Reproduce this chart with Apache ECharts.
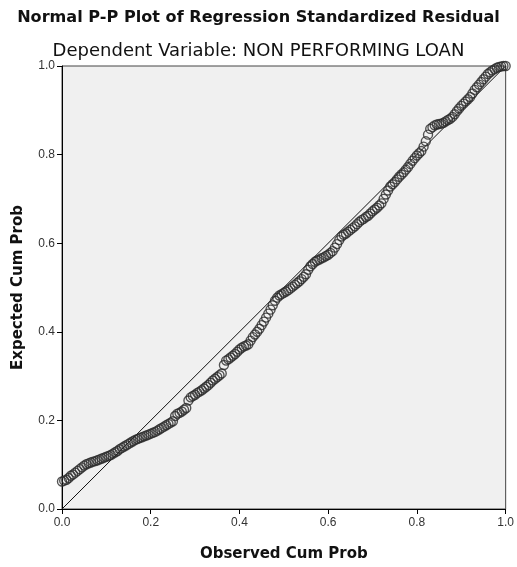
<!DOCTYPE html>
<html>
<head>
<meta charset="utf-8">
<script src="https://cdn.jsdelivr.net/npm/echarts@6/dist/echarts.min.js"></script>
<style>html,body{margin:0;padding:0;background:#fff;}#c{width:517px;height:567px;}</style>
</head>
<body>
<div id="c"></div>
<script>
var observed = [
  0.000,0.005,0.010,0.015,0.020,0.025,0.030,0.035,0.040,0.045,
  0.050,0.055,0.060,0.065,0.070,0.075,0.080,0.085,0.090,0.095,
  0.100,0.105,0.110,0.115,0.120,0.125,0.130,0.135,0.140,0.145,
  0.150,0.155,0.160,0.165,0.170,0.175,0.180,0.185,0.190,0.195,
  0.200,0.205,0.210,0.215,0.220,0.225,0.230,0.235,0.240,0.245,
  0.250,0.255,0.260,0.265,0.270,0.275,0.280,0.285,0.290,0.295,
  0.300,0.305,0.310,0.315,0.320,0.325,0.330,0.335,0.340,0.345,
  0.350,0.355,0.360,0.365,0.370,0.375,0.380,0.385,0.390,0.395,
  0.400,0.405,0.410,0.415,0.420,0.425,0.430,0.435,0.440,0.445,
  0.450,0.455,0.460,0.465,0.470,0.475,0.480,0.485,0.490,0.495,
  0.500,0.505,0.510,0.515,0.520,0.525,0.530,0.535,0.540,0.545,
  0.550,0.555,0.560,0.565,0.570,0.575,0.580,0.585,0.590,0.595,
  0.600,0.605,0.610,0.615,0.620,0.625,0.630,0.635,0.640,0.645,
  0.650,0.655,0.660,0.665,0.670,0.675,0.680,0.685,0.690,0.695,
  0.700,0.705,0.710,0.715,0.720,0.725,0.730,0.735,0.740,0.745,
  0.750,0.755,0.760,0.765,0.770,0.775,0.780,0.785,0.790,0.795,
  0.800,0.805,0.810,0.815,0.820,0.825,0.830,0.835,0.840,0.845,
  0.850,0.855,0.860,0.865,0.870,0.875,0.880,0.885,0.890,0.895,
  0.900,0.905,0.910,0.915,0.920,0.925,0.930,0.935,0.940,0.945,
  0.950,0.955,0.960,0.965,0.970,0.975,0.980,0.985,0.990,0.995,1.000];
var expected = [
  0.062,0.064,0.066,0.070,0.075,0.078,0.082,0.086,0.090,0.094,
  0.098,0.101,0.103,0.105,0.107,0.108,0.110,0.112,0.114,0.116,
  0.118,0.120,0.122,0.125,0.128,0.131,0.135,0.138,0.141,0.144,
  0.147,0.150,0.153,0.156,0.158,0.160,0.162,0.164,0.166,0.168,
  0.170,0.172,0.174,0.177,0.180,0.183,0.186,0.189,0.192,0.195,
  0.198,0.210,0.215,0.217,0.220,0.224,0.228,0.245,0.252,0.255,
  0.258,0.262,0.265,0.268,0.272,0.276,0.280,0.285,0.290,0.294,
  0.298,0.302,0.306,0.325,0.335,0.338,0.342,0.346,0.350,0.355,
  0.360,0.364,0.367,0.369,0.372,0.380,0.388,0.394,0.400,0.407,
  0.415,0.423,0.432,0.441,0.450,0.460,0.470,0.477,0.482,0.485,
  0.488,0.491,0.494,0.498,0.502,0.506,0.510,0.514,0.519,0.524,
  0.530,0.540,0.548,0.553,0.558,0.561,0.563,0.566,0.568,0.571,
  0.574,0.578,0.582,0.590,0.598,0.607,0.615,0.619,0.622,0.626,
  0.630,0.634,0.638,0.643,0.648,0.652,0.655,0.659,0.662,0.667,
  0.672,0.676,0.680,0.685,0.690,0.700,0.710,0.719,0.728,0.733,
  0.738,0.744,0.750,0.755,0.760,0.766,0.772,0.779,0.786,0.792,
  0.798,0.803,0.808,0.818,0.830,0.845,0.858,0.862,0.866,0.868,
  0.869,0.870,0.872,0.875,0.878,0.881,0.885,0.891,0.898,0.904,
  0.910,0.915,0.920,0.925,0.930,0.938,0.946,0.952,0.958,0.964,
  0.970,0.976,0.982,0.986,0.990,0.993,0.996,0.998,0.999,1.000,1.000];
var refLine = [[0,0],[1,1]];
var titleText = 'Normal P-P Plot of Regression Standardized Residual';
var subtitleText = 'Dependent Variable: NON PERFORMING LOAN';
var xName = 'Observed Cum Prob';
var yName = 'Expected Cum Prob';

var points = observed.map(function(x, i){ return [x, expected[i]]; });
var chart = echarts.init(document.getElementById('c'), null, {renderer:'canvas'});
var fmt = function(v){ return v.toFixed(1); };
var nameStyle = {fontSize:15, fontWeight:'bold', color:'#111', fontFamily:'DejaVu Sans'};
var axisCommon = {
  type:'value', min:0, max:1, interval:0.2,
  axisLine:{show:true, lineStyle:{color:'#000', width:1}},
  axisTick:{show:true, length:5, lineStyle:{color:'#000'}},
  splitLine:{show:false},
  axisLabel:{color:'#333', fontSize:12, fontFamily:'Liberation Sans', formatter:fmt}
};
chart.setOption({
  backgroundColor:'#fff',
  animation:false,
  title:[
    {text:titleText, left:'center', top:5, textStyle:{fontSize:16.1, fontWeight:'bold', color:'#111', fontFamily:'DejaVu Sans'}},
    {text:subtitleText, left:'center', top:37, textStyle:{fontSize:18, fontWeight:'normal', color:'#111', fontFamily:'DejaVu Sans'}}
  ],
  grid:{left:62, right:9, top:66, bottom:56, show:true, backgroundColor:'#f0f0f0', borderColor:'#444', borderWidth:1},
  xAxis:Object.assign({}, axisCommon, {
    name:xName, nameLocation:'middle', nameGap:38, nameTextStyle:nameStyle,
    axisLabel:Object.assign({}, axisCommon.axisLabel, {margin:8})
  }),
  yAxis:Object.assign({}, axisCommon, {
    name:yName, nameLocation:'middle', nameGap:36, nameTextStyle:nameStyle,
    axisLabel:Object.assign({}, axisCommon.axisLabel, {margin:7})
  }),
  series:[
    {type:'line', data:refLine, symbol:'none', lineStyle:{color:'#111', width:1}, z:1, silent:true},
    {type:'scatter', data:points, symbol:'circle', symbolSize:9,
     itemStyle:{color:'rgba(0,0,0,0)', borderColor:'#2a2a2a', borderWidth:1.4}, z:2}
  ]
});
</script>
</body>
</html>
